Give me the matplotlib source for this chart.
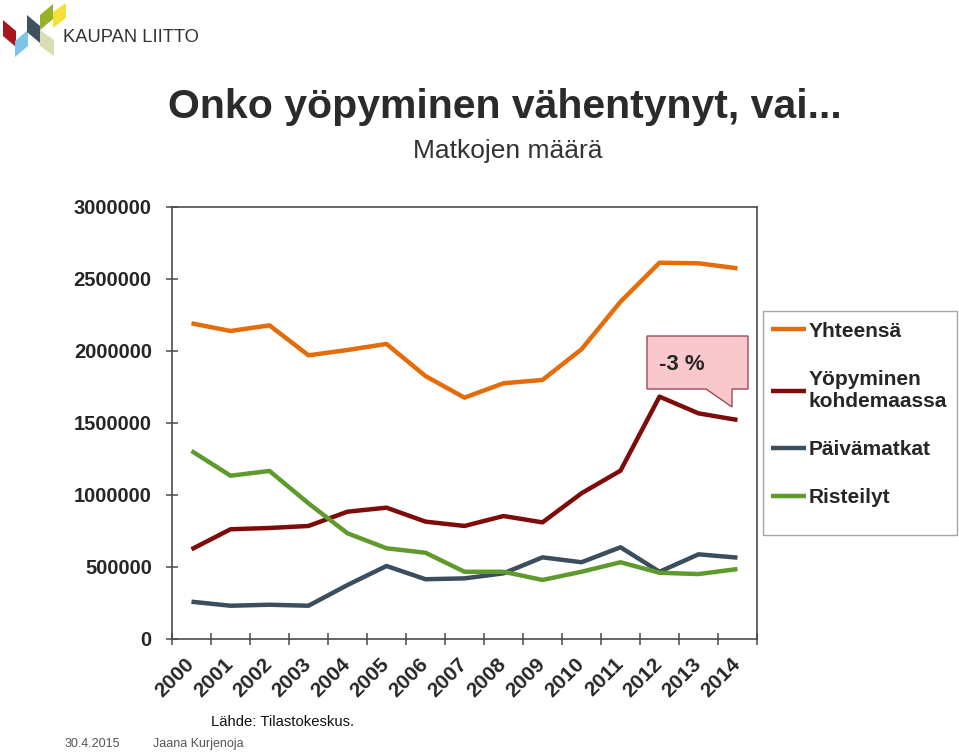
import numpy as np
import matplotlib
matplotlib.use('Agg')
import matplotlib.pyplot as plt
from matplotlib.patches import Polygon, Rectangle

plt.rcParams['font.family'] = ['Liberation Sans', 'DejaVu Sans']

years = [str(y) for y in range(2000, 2015)]
yhteensa = [2192000, 2139000, 2178000, 1970000, 2007000, 2049000, 1826000, 1676000,
            1776000, 1799000, 2012000, 2342000, 2613000, 2609000, 2574000]
yopyminen = [623000, 762000, 771000, 785000, 884000, 912000, 815000, 785000,
             854000, 810000, 1012000, 1169000, 1683000, 1567000, 1521000]
paivamatkat = [259000, 231000, 238000, 231000, 375000, 507000, 415000, 421000,
               456000, 567000, 533000, 637000, 467000, 588000, 565000]
risteilyt = [1306000, 1134000, 1167000, 942000, 734000, 630000, 599000, 467000,
             467000, 410000, 467000, 533000, 460000, 451000, 486000]

series = [
    ('Yhteensä', yhteensa, '#E46C0A'),
    ('Yöpyminen\nkohdemaassa', yopyminen, '#7F0A0A'),
    ('Päivämatkat', paivamatkat, '#3B4E5E'),
    ('Risteilyt', risteilyt, '#5E9B2C'),
]

txt = '#262626'
axc = '#4a4a4a'

fig = plt.figure(figsize=(9.59, 7.52), dpi=100)
ax = fig.add_axes([172 / 959, 1 - 639 / 752, 585 / 959, 432 / 752])

x = np.arange(len(years))
handles = []
for label, vals, col in series:
    h, = ax.plot(x, vals, color=col, lw=3.2, label=label, solid_capstyle='butt')
    handles.append(h)

ax.set_xlim(-0.5, len(years) - 0.5)
ax.set_ylim(0, 3000000)
ax.set_yticks(np.arange(0, 3000001, 500000))
ax.set_yticklabels([str(v) for v in range(0, 3000001, 500000)],
                   fontsize=14.5, fontweight='bold', color=txt)
ax.set_xticks(x)
ax.set_xticklabels(years, rotation=45, ha='right', va='center',
                   rotation_mode='anchor', fontsize=15, fontweight='bold', color=txt)
ax.set_xticks(np.arange(-0.5, len(years)), minor=True)
ax.tick_params(axis='x', which='major', length=0, pad=16)
ax.tick_params(axis='x', which='minor', direction='inout', length=9, width=1.1, color=axc)
ax.tick_params(axis='y', direction='inout', length=9, width=1.1, color=axc, pad=10)
for s in ax.spines.values():
    s.set_color(axc)
    s.set_linewidth(1.2)

# legend with its own frame
fig.patches.append(Rectangle((763 / 959, 1 - 535 / 752), 194 / 959, 224 / 752,
                             transform=fig.transFigure, fill=False,
                             edgecolor='#a6a6a6', lw=1.0))
leg = fig.legend(handles=handles, loc='upper left',
                 bbox_to_anchor=(754 / 959, 1 - 305 / 752), frameon=False,
                 prop={'weight': 'bold', 'size': 15}, handlelength=1.7,
                 handletextpad=0.1, labelspacing=1.4, borderpad=0.3)
for t in leg.get_texts():
    t.set_color(txt)

# overlay in pixel coordinates for logo, callout and texts
ov = fig.add_axes([0, 0, 1, 1])
ov.set_xlim(0, 959)
ov.set_ylim(752, 0)
ov.axis('off')

logo = [
    ([(3, 20), (16, 31), (16, 47), (3, 36)], '#A8161C'),
    ([(15, 41), (28, 30), (28, 46), (15, 57)], '#7CC4EA'),
    ([(27, 15), (40, 26), (40, 43), (27, 32)], '#3E5160'),
    ([(40, 15), (53, 4), (53, 19), (40, 30)], '#97B22A'),
    ([(53, 12), (66, 3), (66, 18), (53, 28)], '#F3E03B'),
    ([(40, 30), (54, 40), (54, 56), (40, 46)], '#DADDB2'),
]
for pts, col in logo:
    ov.add_patch(Polygon(pts, closed=True, facecolor=col, edgecolor='none'))
ov.text(63, 38, 'KAUPAN LIITTO', fontsize=13.2, color='#333333', va='center',
        ha='left')

fig.text(168 / 959, 1 - 107 / 752, 'Onko yöpyminen vähentynyt, vai...',
         fontsize=29.5, fontweight='bold', color='#2b2b2b', va='center', ha='left')
fig.text(508 / 959, 1 - 151 / 752, 'Matkojen määrä', fontsize=19,
         color='#333333', va='center', ha='center')

callout = [(647, 336), (748, 336), (748, 389), (732, 389), (732, 407),
           (706, 389), (647, 389)]
ov.add_patch(Polygon(callout, closed=True, facecolor='#F9C8CC',
                     edgecolor='#A04A55', lw=1.0))
ov.text(659, 365, '-3 %', fontsize=16, fontweight='bold', color=txt,
        va='center', ha='left')

fig.text(211 / 959, 1 - 722 / 752, 'Lähde: Tilastokeskus.', fontsize=10.7,
         color='#111111', va='center', ha='left')
fig.text(65 / 959, 1 - 744 / 752, '30.4.2015', fontsize=9, color='#555555',
         va='center', ha='left')
fig.text(153 / 959, 1 - 744 / 752, 'Jaana Kurjenoja', fontsize=9,
         color='#555555', va='center', ha='left')

fig.savefig('out.png', dpi=100)
